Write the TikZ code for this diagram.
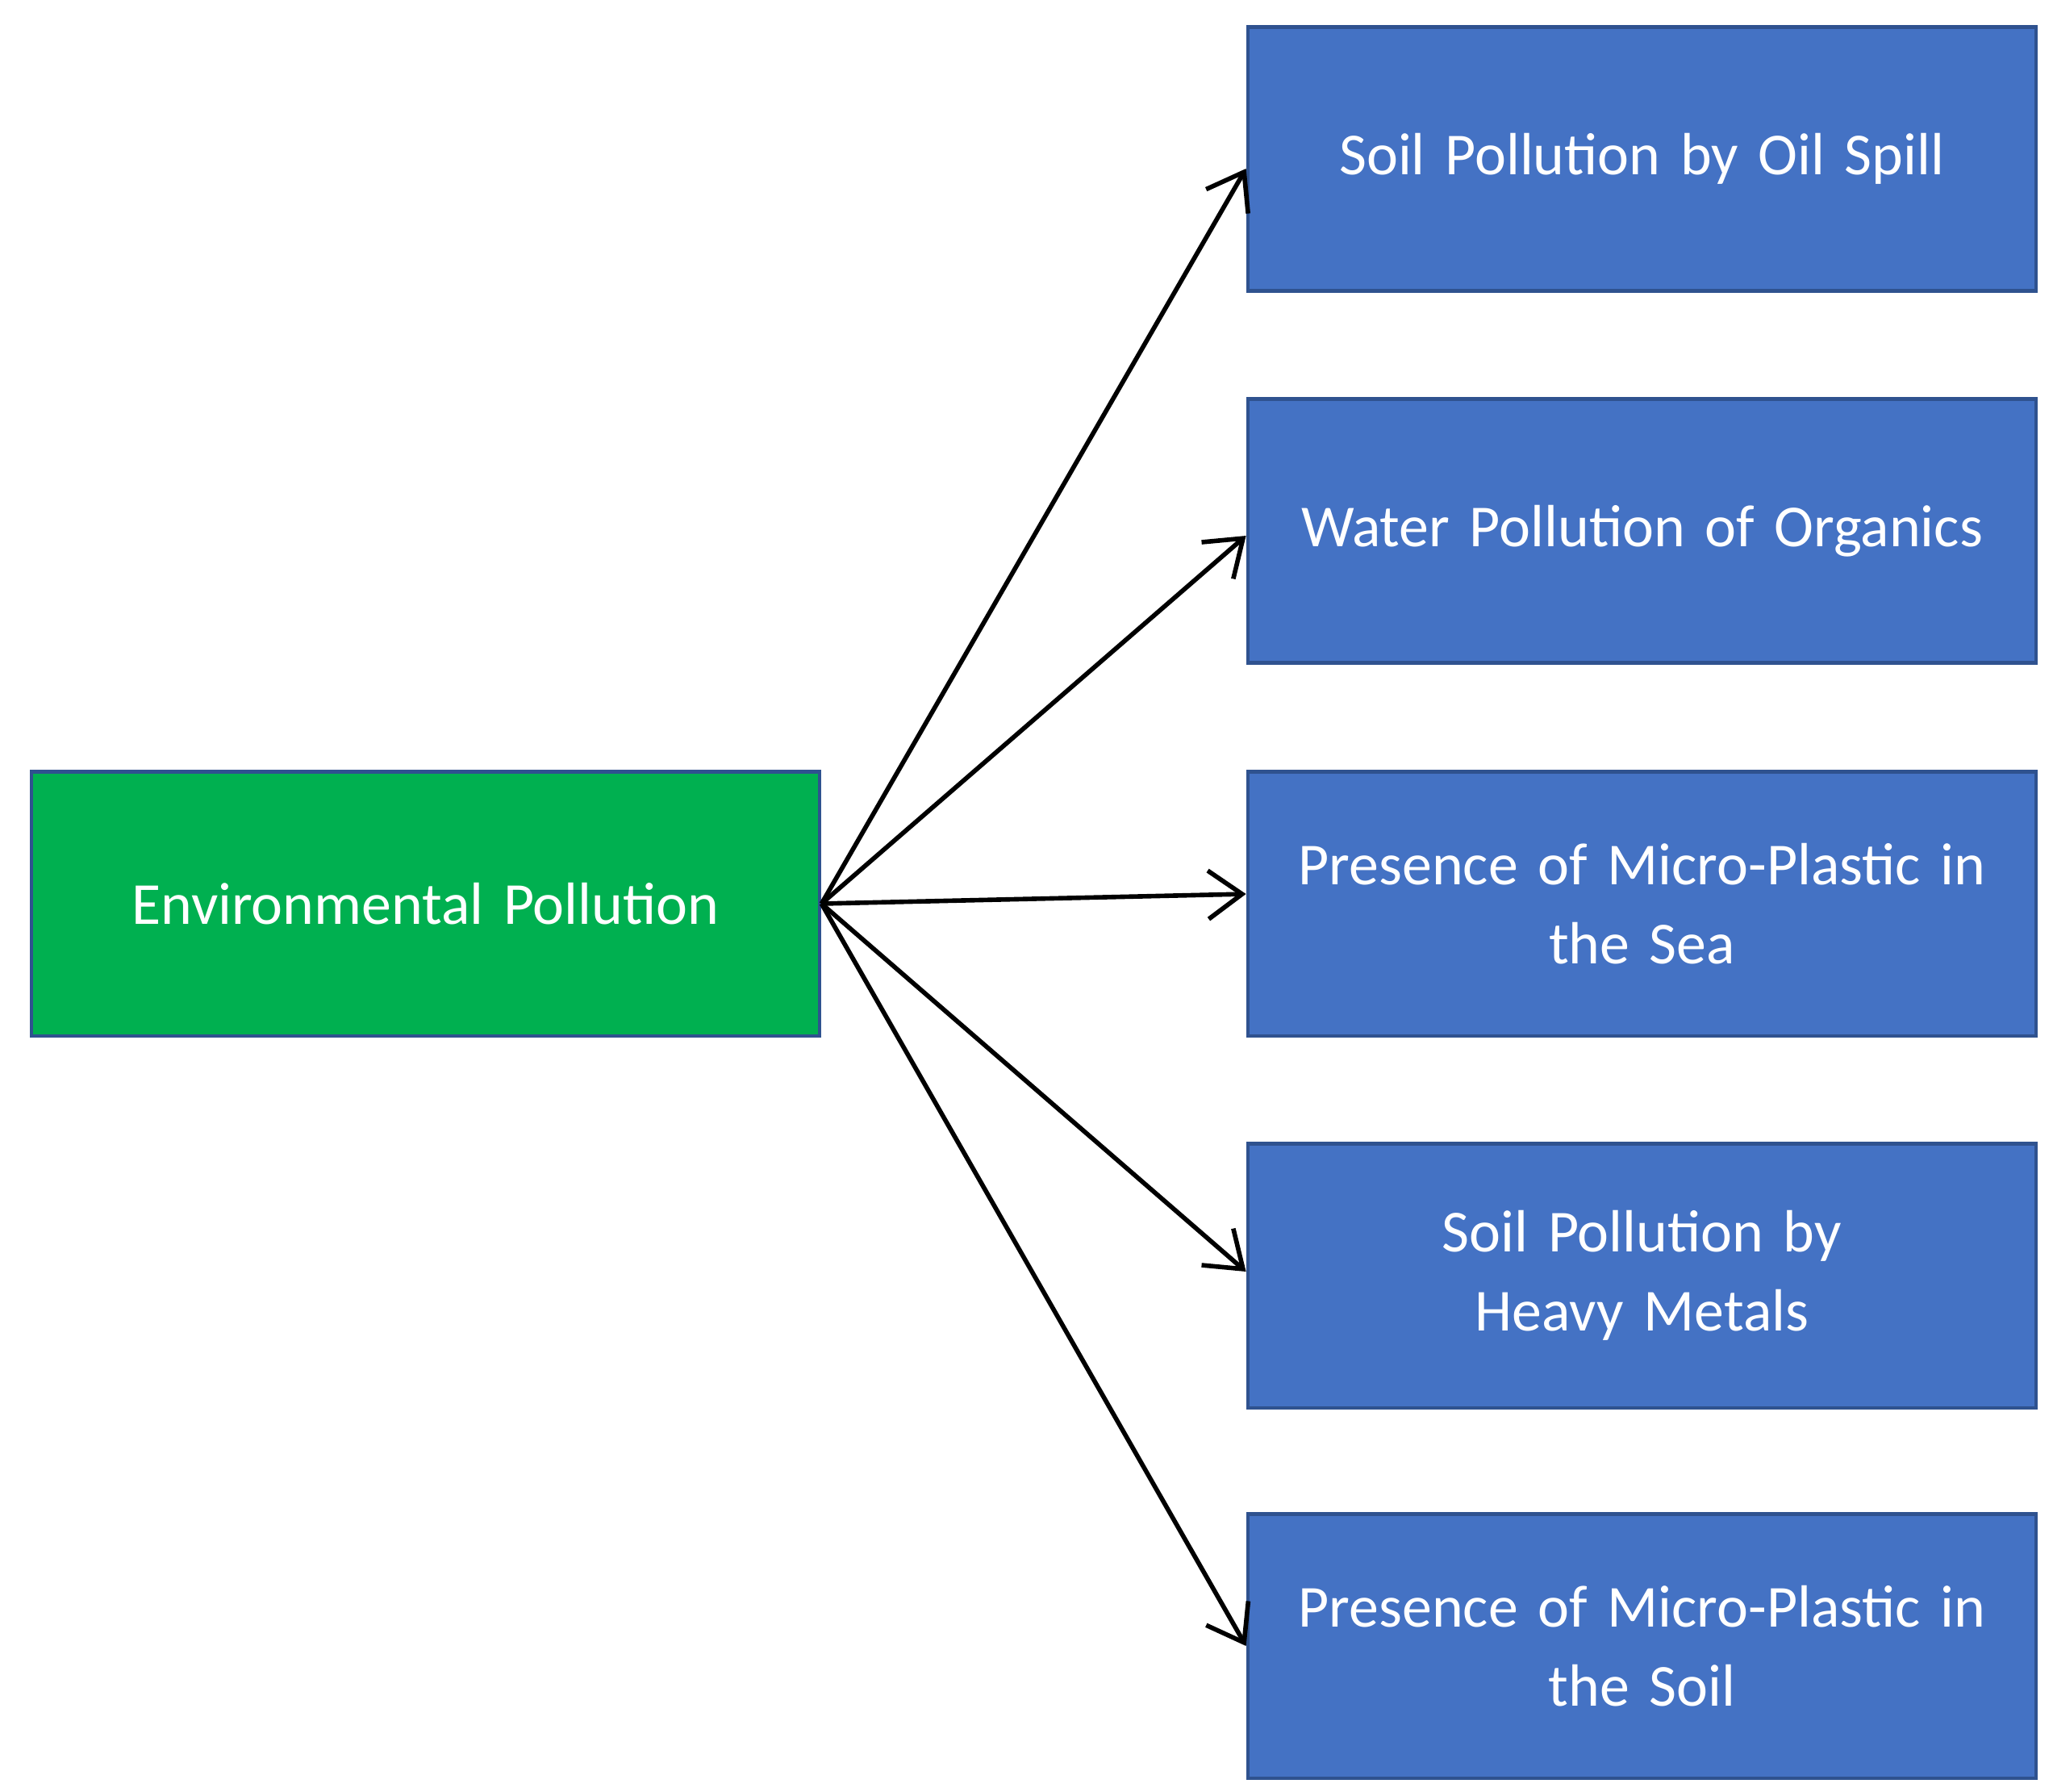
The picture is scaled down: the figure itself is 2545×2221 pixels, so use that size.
\documentclass[tikz,border=0pt]{standalone}
\usepackage{fontspec}
\setmainfont{Carlito}
\usetikzlibrary{arrows.meta}
\definecolor{boxblue}{HTML}{4472C4}
\definecolor{boxgreen}{HTML}{00B050}
\definecolor{edge}{HTML}{2F528F}
\begin{document}
\begin{tikzpicture}[x=0.01cm,y=-0.01cm,
  box/.style={draw=edge,line width=1.2pt,text=white,minimum width=9.77cm,minimum height=3.27cm,
    align=center,text width=9.5cm,font=\fontsize{21}{28}\selectfont,inner sep=0pt},
  arr/.style={line width=1.6pt,-{Straight Barb[length=0.42cm,width=0.6cm,line width=1.6pt]}}]
\useasboundingbox (0,0) rectangle (2545,2221);
\node[box,fill=boxgreen] (ep) at (527.5,1120) {Environmental Pollution};
\node[box,fill=boxblue] (b1) at (2035.5,197) {Soil Pollution by Oil Spill};
\node[box,fill=boxblue] (b2) at (2035.5,658) {Water Pollution of Organics};
\node[box,fill=boxblue] (b3) at (2035.5,1120) {Presence of Micro-Plastic in\\the Sea};
\node[box,fill=boxblue] (b4) at (2035.5,1581) {Soil Pollution by\\Heavy Metals};
\node[box,fill=boxblue] (b5) at (2035.5,2040) {Presence of Micro-Plastic in\\the Soil};
\draw[arr] (ep.east) -- ([yshift=-0.12cm]b1.west);
\draw[arr] (ep.east) -- ([yshift=-0.06cm]b2.west);
\draw[arr] (ep.east) -- ([yshift=0.12cm]b3.west);
\draw[arr] (ep.east) -- ([yshift=0.05cm]b4.west);
\draw[arr] (ep.east) -- (b5.west);
\end{tikzpicture}
\end{document}
